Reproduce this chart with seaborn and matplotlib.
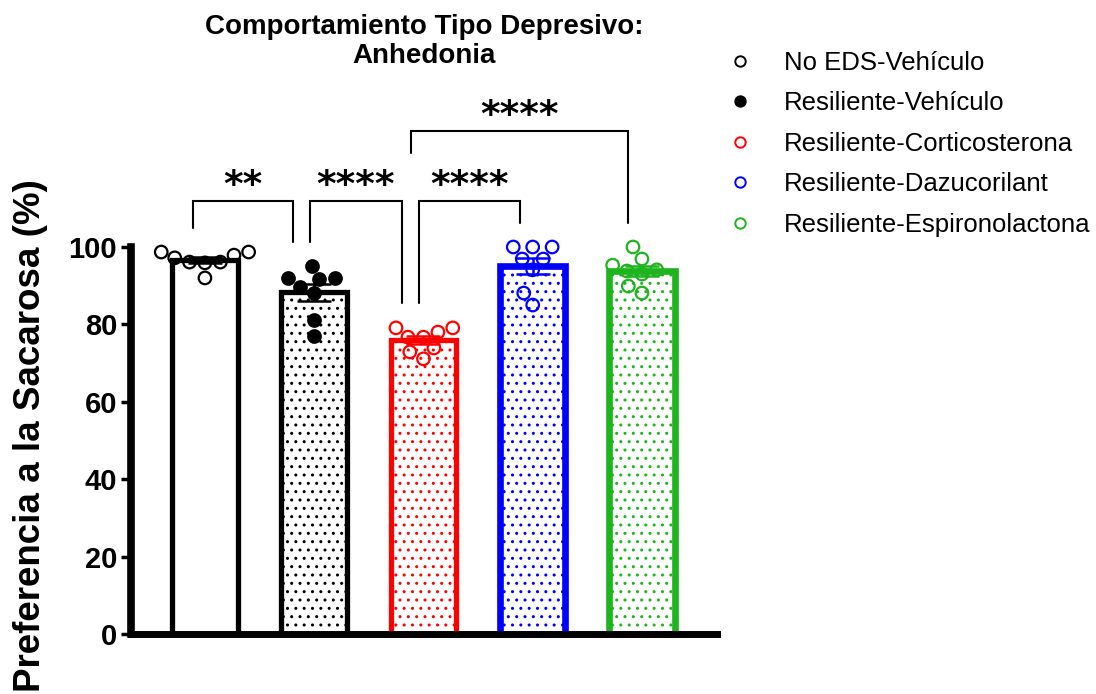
import matplotlib
matplotlib.use('Agg')
import matplotlib.pyplot as plt
from matplotlib.lines import Line2D
import pandas as pd
import seaborn as sns

# Data
groups = ['No EDS-Vehículo', 'Resiliente-Vehículo', 'Resiliente-Corticosterona',
          'Resiliente-Dazucorilant', 'Resiliente-Espironolactona']
no_eds_veh = [97.9, 98.7, 96.1, 97.2, 92.0, 98.7, 95.9, 96.1]
res_veh = [95.1, 92.0, 91.7, 88.1, 81.1, 77.0, 89.7, 92.0]
res_cort = [76.7, 78.0, 76.7, 73.9, 79.1, 72.9, 79.1, 71.1]
res_dazu = [100.0, 96.9, 100.0, 94.1, 88.1, 85.0, 100.0, 96.9]
res_espi = [96.9, 94.1, 100.0, 93.0, 88.1, 93.8, 89.9, 95.3]

colors = ['black', 'black', '#ff0000', '#0000ff', '#1eb41e']
filled = [False, True, False, False, False]
hatches = [None, '..', '..', '..', '..']
edge_lw = [3.8, 3.8, 3.8, 4.8, 4.8]

# significance brackets: (group i, group j, left offset, right offset, top, label)
brackets = [(0, 1, -0.11, -0.19, 111.9, '**'),
            (1, 2, -0.04, -0.20, 111.9, '****'),
            (2, 3, -0.04, -0.12, 111.9, '****'),
            (2, 4, -0.11, -0.13, 130.0, '****')]

df = pd.DataFrame({
    'group': sum([[g] * 8 for g in groups], []),
    'value': no_eds_veh + res_veh + res_cort + res_dazu + res_espi,
})
stats = df.groupby('group', sort=False)['value'].agg(['mean', 'sem', 'max']).reindex(groups)

sns.set_style('ticks')
plt.rcParams['font.family'] = ['Liberation Sans', 'DejaVu Sans']
plt.rcParams['hatch.linewidth'] = 1.0
plt.rcParams['text.color'] = 'black'
plt.rcParams['axes.labelcolor'] = 'black'
plt.rcParams['ytick.color'] = 'black'
plt.rcParams['ytick.labelcolor'] = 'black'

fig = plt.figure(figsize=(10.96, 6.94), dpi=100)
ax = fig.add_axes([0.1195, 0.0865, 0.5347, 0.5576])

# Bars
sns.barplot(data=df, x='group', y='value', order=groups, errorbar=None,
            width=0.6, color='white', ax=ax)
for i, bar in enumerate(ax.patches):
    bar.set_facecolor('white')
    bar.set_edgecolor(colors[i])
    bar.set_linewidth(edge_lw[i])
    if hatches[i]:
        bar.set_hatch(hatches[i])
    bar.set_zorder(1)

# Individual points
sns.swarmplot(data=df, x='group', y='value', order=groups, hue='group',
              hue_order=groups, palette=colors, size=9, legend=False,
              clip_on=False, ax=ax, warn_thresh=1)
for coll in ax.collections:
    offs = coll.get_offsets()
    if len(offs) == 0:
        continue
    i = int(round(offs[:, 0].mean()))
    coll.set_edgecolor(colors[i])
    coll.set_facecolor(colors[i] if filled[i] else 'none')
    coll.set_linewidth(1.6)
    coll.set_zorder(4)

# Mean +/- SEM
for i, g in enumerate(groups):
    ax.errorbar(i, stats.loc[g, 'mean'], yerr=stats.loc[g, 'sem'], color=colors[i],
                capsize=12, elinewidth=1.8, capthick=1.8, zorder=3, clip_on=False)

# Brackets
for i, j, dl, dr, top, label in brackets:
    x1, x2 = i + dl, j + dr
    y1 = stats.loc[groups[i], 'max'] + 6.3
    y2 = stats.loc[groups[j], 'max'] + 6.3
    if i == 2 and j == 4:
        y1 = 124.3
    ax.plot([x1, x1, x2, x2], [y1, top, top, y2], color='black', lw=1.5,
            clip_on=False, solid_joinstyle='miter')
    ax.text((x1 + x2) / 2, top + 1.2, label, ha='center', va='baseline',
            fontsize=27, fontweight='bold', family='DejaVu Sans', clip_on=False)

ax.set_xlim(-0.677, 4.687)
ax.set_ylim(0, 100)
ax.set_yticks([0, 20, 40, 60, 80, 100])
ax.set_xticks([])
ax.set_xlabel('')
ax.set_ylabel('Preferencia a la Sacarosa (%)', fontsize=26.5, fontweight='bold')
ax.yaxis.set_label_coords(-0.142, 0.514)
ax.tick_params(axis='y', length=7, width=2.5, pad=3, labelsize=21, color='black')
for lab in ax.get_yticklabels():
    lab.set_fontweight('bold')
sns.despine(ax=ax)
ax.spines['left'].set_linewidth(5.5)
ax.spines['bottom'].set_linewidth(5)
ax.spines['left'].set_bounds(0, 100)
ax.spines['left'].set_color('black')
ax.spines['bottom'].set_color('black')

fig.text(0.387, 1 - 63 / 694, 'Comportamiento Tipo Depresivo:\nAnhedonia', ha='center',
         va='baseline', multialignment='center', fontsize=20, fontweight='bold',
         linespacing=1.15)

handles = [Line2D([], [], ls='none', marker='o', markersize=7.5, markeredgewidth=1.4,
                  markeredgecolor=c, markerfacecolor=c if f else 'none')
           for c, f in zip(colors, filled)]
fig.legend(handles, groups, loc='upper left', bbox_to_anchor=(727 / 1096, 1 - 51 / 694),
           frameon=False, fontsize=18.5, handlelength=1.0, handletextpad=1.2,
           labelspacing=0.64, borderpad=0, borderaxespad=0)

fig.savefig('out.png', dpi=100)
